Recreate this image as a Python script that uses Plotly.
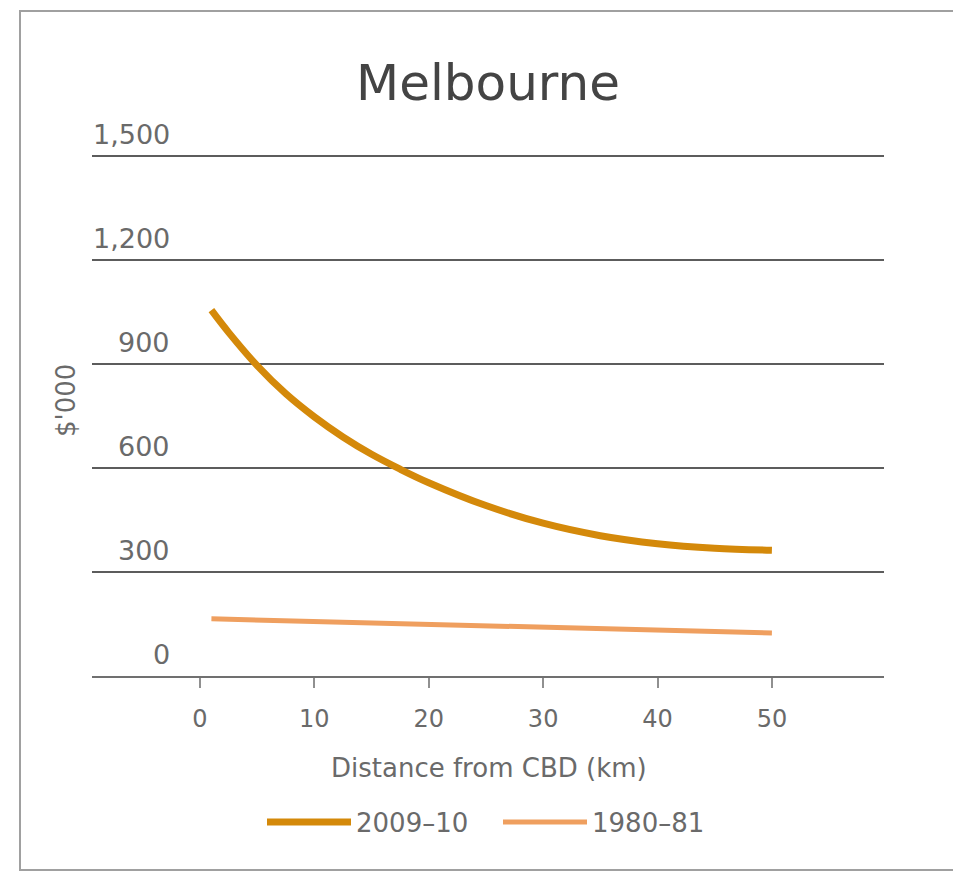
import plotly.graph_objects as go

# ---- data ----
distance_2009 = [1, 2.5, 5, 7.5, 10, 12.5, 15, 17.5, 20, 25, 30, 35, 40, 45, 50]
value_2009 = [1056, 992, 896, 815, 748, 690, 640, 597, 558, 492, 441, 405, 382, 369, 363]

distance_1980 = [1, 10, 20, 30, 40, 50]
value_1980 = [165, 158, 150, 142, 133, 124]

x_ticks = [0, 10, 20, 30, 40, 50]
y_ticks = [0, 300, 600, 900, 1200, 1500]
y_tick_labels = ["0", "300", "600", "900", "1,200", "1,500"]

series_names = ["2009–10", "1980–81"]
title_text = "Melbourne"
x_title = "Distance from CBD (km)"
y_title = "$'000"

FONT = "DejaVu Sans"
GRID = "#5c5c5c"
TXT = "#6a6a6a"

OFF = 8  # page body margin
W, H = 961 - OFF, 873 - OFF
PL, PR, PT, PB = 92, 884, 155, 676  # plot area in screen pixels
L, R, T, B = PL - OFF, W - (PR - OFF), PT - OFF, H - (PB - OFF)
pw, ph = W - L - R, H - T - B


def px_x(p):
    return (p - OFF - L) / pw


def px_y(p):
    return (H - B - (p - OFF)) / ph


fig = go.Figure()
fig.add_trace(go.Scatter(
    x=distance_2009, y=value_2009, mode="lines", name=series_names[0],
    line=dict(color="#D4890A", width=7, shape="spline", smoothing=1.0),
))
fig.add_trace(go.Scatter(
    x=distance_1980, y=value_1980, mode="lines", name=series_names[1],
    line=dict(color="#EF9F5F", width=5),
))

annotations = []
for v, lab in zip(y_ticks, y_tick_labels):
    annotations.append(dict(
        x=px_x(172), xref="paper", y=v, yref="y", text=lab, showarrow=False,
        xanchor="right", yanchor="bottom", yshift=4,
        font=dict(family=FONT, size=27, color=TXT),
    ))
annotations.append(dict(
    x=px_x(66), xref="paper", y=px_y(401), yref="paper", text=y_title,
    showarrow=False, textangle=-90, xanchor="center", yanchor="middle",
    font=dict(family=FONT, size=26, color=TXT),
))
annotations.append(dict(
    x=px_x(489), xref="paper", y=px_y(768), yref="paper", text=x_title,
    showarrow=False, xanchor="center", yanchor="middle",
    font=dict(family=FONT, size=26, color=TXT),
))

shapes = [dict(
    type="rect", xref="paper", yref="paper",
    x0=px_x(20), x1=px_x(957), y0=px_y(870), y1=px_y(11),
    line=dict(color="#a0a0a0", width=2), fillcolor="rgba(0,0,0,0)", layer="below",
)]

fig.update_layout(
    width=W, height=H,
    margin=dict(l=L, r=R, t=T, b=B),
    paper_bgcolor="white", plot_bgcolor="white",
    title=dict(text=title_text, x=(488 - OFF) / W, xanchor="center",
               y=1 - (82 - OFF) / H, yanchor="middle",
               xref="container", yref="container",
               font=dict(family=FONT, size=50, color="#444444")),
    xaxis=dict(range=[-9.44, 59.8], tickvals=x_ticks, showgrid=False,
               zeroline=False, showline=True, linecolor="#707070", linewidth=2,
               ticks="outside", ticklen=10, tickwidth=2, tickcolor="#909090",
               ticklabelstandoff=10,
               tickfont=dict(family=FONT, size=24, color=TXT)),
    yaxis=dict(range=[0, 1504], tickvals=y_ticks, showticklabels=False,
               showgrid=True, gridcolor=GRID, gridwidth=2, zeroline=False),
    showlegend=True,
    legend=dict(orientation="h", x=px_x(262), xanchor="left", y=px_y(822),
                yanchor="middle", itemwidth=84, entrywidth=137,
                entrywidthmode="pixels",
                font=dict(family=FONT, size=26, color=TXT),
                bgcolor="rgba(0,0,0,0)"),
    annotations=annotations,
    shapes=shapes,
)

fig.write_html("out.html")
